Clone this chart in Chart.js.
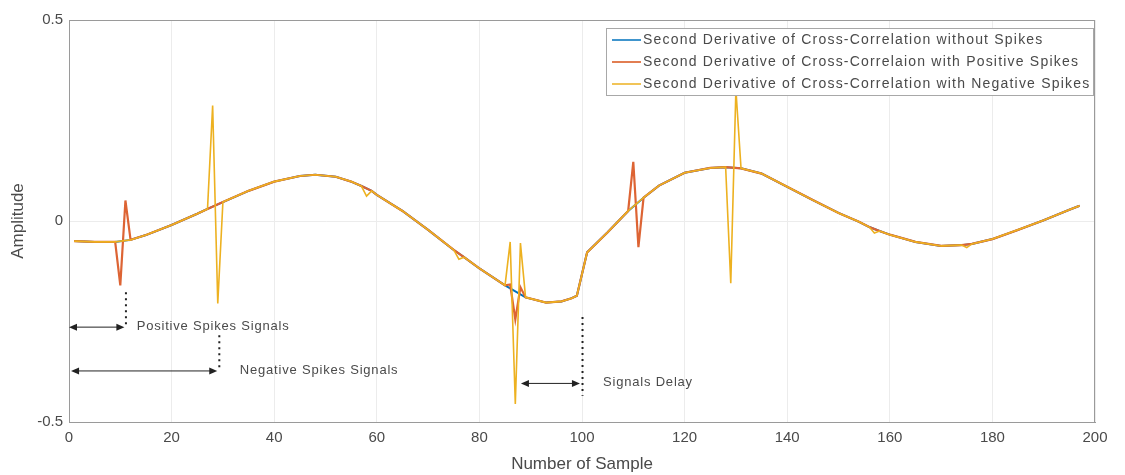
<!DOCTYPE html>
<html>
<head>
<meta charset="utf-8">
<script src="https://cdn.jsdelivr.net/npm/chart.js@4.4.1/dist/chart.umd.min.js"></script>
<style>
  body { margin: 0; background: #fff; }
  canvas { display: block; }
</style>
</head>
<body>
<canvas id="myChart" width="1125" height="475"></canvas>
<script>
// base curve (second derivative without spikes)
var sampleX = [1, 5, 9, 12, 15, 20, 25, 27, 30, 35, 40, 45, 48, 52, 55, 57, 59, 60, 65, 70, 74, 75, 77, 80, 85, 89, 93, 96, 98, 99,
               101, 105, 109, 112, 115, 120, 125, 128, 131, 135, 140, 145, 150, 154, 156, 158, 160, 165, 170, 174, 176, 180, 185, 190, 195, 197];
var baseY = [-0.050, -0.052, -0.052, -0.047, -0.035, -0.010, 0.018, 0.030, 0.047, 0.075, 0.098, 0.112, 0.115, 0.110, 0.098, 0.087, 0.075, 0.065, 0.025, -0.022, -0.062, -0.072, -0.090, -0.118, -0.160, -0.190, -0.203, -0.200, -0.192, -0.186,
             -0.078, -0.028, 0.025, 0.058, 0.088, 0.120, 0.132, 0.134, 0.131, 0.118, 0.085, 0.052, 0.020, -0.002, -0.015, -0.025, -0.034, -0.052, -0.062, -0.060, -0.057, -0.045, -0.022, 0.002, 0.028, 0.038];

// samples that differ when positive spikes are added
var posSpikeX = [10, 11, 86, 87, 88, 110, 111];
var posSpikeY = [-0.160, 0.051, -0.158, -0.245, -0.165, 0.147, -0.065];

// samples that differ when negative spikes are added
var negSpikeX = [28, 29, 58, 76, 86, 87, 88, 129, 130, 157, 175];
var negSpikeY = [0.287, -0.205, 0.062, -0.095, -0.052, -0.455, -0.055, -0.155, 0.327, -0.030, -0.066];

var seriesNames = [
  'Second Derivative of Cross-Correlation without Spikes',
  'Second Derivative of Cross-Correlaion with Positive Spikes',
  'Second Derivative of Cross-Correlation with Negative Spikes'
];
var seriesColors = ['#0072BD', '#D95319', '#EDB120'];

// text notes with arrows (data units)
var notes = [
  { text: 'Positive Spikes Signals', from: 0, to: 10.8, y: -0.264, mark: 11.1, markTop: -0.177, textX: 13.2 },
  { text: 'Negative Spikes Signals', from: 0.4, to: 28.9, y: -0.373, mark: 29.3, markTop: -0.284, textX: 33.3 },
  { text: 'Signals Delay', from: 88.1, to: 99.6, y: -0.404, mark: 100.1, markTop: -0.239, markBottom: -0.435, textX: 104.1 }
];

function withSpikes(sx, sy) {
  var pts = new Map();
  sampleX.forEach(function (x, i) { pts.set(x, baseY[i]); });
  sx.forEach(function (x, i) { pts.set(x, sy[i]); });
  return Array.from(pts.entries()).sort(function (a, b) { return a[0] - b[0]; })
    .map(function (p) { return { x: p[0], y: p[1] }; });
}

var FONT = '"Liberation Sans", Arial, sans-serif';

function arrowHead(ctx, x, y, dir) {
  ctx.beginPath();
  ctx.moveTo(x, y);
  ctx.lineTo(x - dir * 8, y - 3.5);
  ctx.lineTo(x - dir * 8, y + 3.5);
  ctx.closePath();
  ctx.fill();
}

var extras = {
  id: 'extras',
  afterDatasetsDraw: function (chart) {
    var ctx = chart.ctx, a = chart.chartArea;
    var xs = chart.scales.x, ys = chart.scales.y;
    ctx.save();
    // box
    ctx.strokeStyle = '#9a9a9a';
    ctx.lineWidth = 1;
    ctx.strokeRect(a.left + 0.5, a.top + 0.5, a.right - a.left - 1, a.bottom - a.top);

    // notes
    notes.forEach(function (n) {
      var x1 = xs.getPixelForValue(n.from), x2 = xs.getPixelForValue(n.to);
      var y = ys.getPixelForValue(n.y);
      var mx = xs.getPixelForValue(n.mark);
      var yTop = ys.getPixelForValue(n.markTop);
      var yBot = ys.getPixelForValue(n.markBottom !== undefined ? n.markBottom : n.y);
      ctx.strokeStyle = '#222';
      ctx.fillStyle = '#222';
      ctx.setLineDash([2, 4]);
      ctx.lineWidth = 2;
      ctx.beginPath();
      ctx.moveTo(mx, yTop);
      ctx.lineTo(mx, yBot);
      ctx.stroke();
      ctx.setLineDash([]);
      ctx.lineWidth = 1;
      ctx.beginPath();
      ctx.moveTo(x1 + 4, y);
      ctx.lineTo(x2 - 4, y);
      ctx.stroke();
      arrowHead(ctx, x1, y, -1);
      arrowHead(ctx, x2, y, 1);
      ctx.fillStyle = '#4a4a4a';
      ctx.font = '13px ' + FONT;
      ctx.letterSpacing = '0.8px';
      ctx.textBaseline = 'middle';
      ctx.textAlign = 'left';
      ctx.fillText(n.text, xs.getPixelForValue(n.textX), y - 1);
    });

    // legend box in the top right corner
    var lw = 487, lh = 67;
    var lx = a.right - 2 - lw, ly = a.top + 8;
    ctx.fillStyle = '#fff';
    ctx.fillRect(lx, ly, lw, lh);
    ctx.strokeStyle = '#a8a8a8';
    ctx.lineWidth = 1;
    ctx.strokeRect(lx + 0.5, ly + 0.5, lw, lh);
    ctx.font = '14px ' + FONT;
    ctx.letterSpacing = '1.2px';
    ctx.textBaseline = 'middle';
    seriesNames.forEach(function (name, i) {
      var ry = ly + 12 + i * 22;
      ctx.strokeStyle = seriesColors[i];
      ctx.lineWidth = 1.5;
      ctx.beginPath();
      ctx.moveTo(lx + 6, ry);
      ctx.lineTo(lx + 35, ry);
      ctx.stroke();
      ctx.fillStyle = '#4a4a4a';
      ctx.fillText(name, lx + 37, ry);
    });
    ctx.restore();
  }
};

var ctx = document.getElementById('myChart').getContext('2d');
var myChart = new Chart(ctx, {
  type: 'line',
  data: {
    datasets: [{
      label: seriesNames[0],
      data: withSpikes([], []),
      borderColor: seriesColors[0],
      borderWidth: 2,
      order: 3
    }, {
      label: seriesNames[1],
      data: withSpikes(posSpikeX, posSpikeY),
      borderColor: '#DD6434',
      borderWidth: 2.2,
      order: 2
    }, {
      label: seriesNames[2],
      data: withSpikes(negSpikeX, negSpikeY),
      borderColor: seriesColors[2],
      borderWidth: 1.6,
      order: 1
    }]
  },
  options: {
    responsive: false,
    animation: false,
    elements: {
      point: { radius: 0 },
      line: { tension: 0 }
    },
    layout: { padding: { top: 20, right: 30, left: 0, bottom: 0 } },
    plugins: {
      legend: { display: false },
      tooltip: { enabled: false }
    },
    scales: {
      x: {
        type: 'linear',
        min: 0,
        max: 200,
        afterFit: function (scale) { scale.height = 53; },
        ticks: { stepSize: 20, color: '#4a4a4a', padding: 7, font: { family: FONT, size: 15 }, maxRotation: 0 },
        grid: { color: '#ececec', drawTicks: false },
        border: { color: '#9a9a9a' },
        title: { display: true, text: 'Number of Sample', color: '#4a4a4a', font: { family: FONT, size: 17 }, padding: { top: 0, bottom: 0 } }
      },
      y: {
        type: 'linear',
        min: -0.5,
        max: 0.5,
        afterFit: function (scale) { scale.width = 69; },
        ticks: { stepSize: 0.5, color: '#4a4a4a', padding: 6, font: { family: FONT, size: 15 } },
        grid: { color: '#ececec', drawTicks: false },
        border: { color: '#9a9a9a' },
        title: { display: true, text: 'Amplitude', color: '#4a4a4a', font: { family: FONT, size: 17 }, padding: { top: 8, bottom: 0 } }
      }
    }
  },
  plugins: [extras]
});
</script>
</body>
</html>
